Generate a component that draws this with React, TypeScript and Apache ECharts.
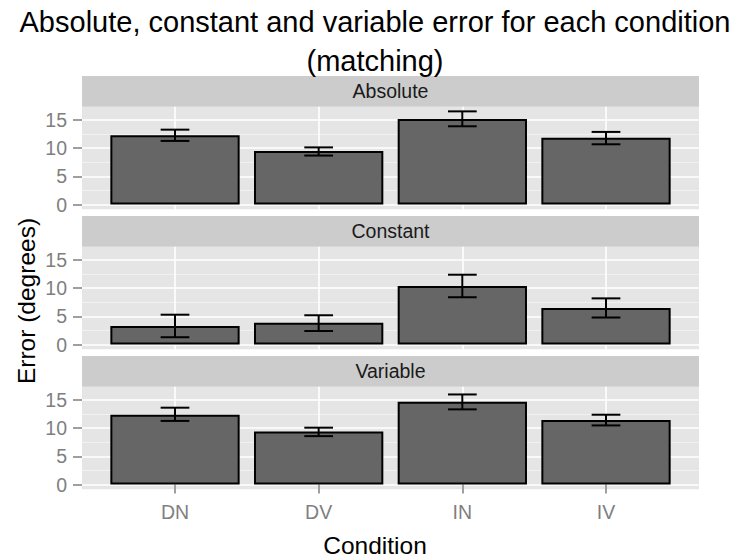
import React, { useEffect, useRef } from "react";
import * as echarts from "echarts";

// ---- data ----
const conditions = ["DN", "DV", "IN", "IV"];
const facetNames = ["Absolute", "Constant", "Variable"];

const absoluteMean = [12.3, 9.5, 15.2, 11.85];
const absoluteLow = [11.3, 8.7, 13.9, 10.7];
const absoluteHigh = [13.3, 10.15, 16.55, 12.9];

const constantMean = [3.3, 3.85, 10.4, 6.5];
const constantLow = [1.3, 2.4, 8.4, 4.8];
const constantHigh = [5.3, 5.2, 12.4, 8.2];

const variableMean = [12.4, 9.4, 14.7, 11.45];
const variableLow = [11.3, 8.6, 13.35, 10.5];
const variableHigh = [13.65, 10.1, 16.0, 12.4];

const yTickValues = [0, 5, 10, 15];
const yMinorValues = [2.5, 7.5, 12.5];

const titleLines = ["Absolute, constant and variable error for each condition", "(matching)"];
const xTitle = "Condition";
const yTitle = "Error (degrees)";

export default function App() {
  const ref = useRef<HTMLDivElement>(null);

  useEffect(() => {
    if (!ref.current) return;
    const chart = echarts.init(ref.current, null, { renderer: "svg" });

    const means = [absoluteMean, constantMean, variableMean];
    const lows = [absoluteLow, constantLow, variableLow];
    const highs = [absoluteHigh, constantHigh, variableHigh];

    const allHigh = Math.max(...highs.flat());
    const yMax = allHigh * 1.05;
    const yMin = -allHigh * 0.05;

    // layout
    const FONT = "Liberation Sans, Arial, Helvetica, sans-serif";
    const panelLeft = 82;
    const panelWidth = 617;
    const panelTops = [106.7, 246.7, 386.7];
    const panelHeight = 102.5;
    const stripHeight = 30.7;
    const expand = 93; // discrete expansion on each side
    const innerLeft = panelLeft + expand;
    const innerWidth = panelWidth - 2 * expand;
    const tickColor = "#7F7F7F";

    const grid: any[] = [];
    const xAxis: any[] = [];
    const yAxis: any[] = [];
    const series: any[] = [];
    const graphic: any[] = [];

    facetNames.forEach((name, p) => {
      const top = panelTops[p];
      const isLast = p === facetNames.length - 1;
      // grid A: full panel (background, horizontal grid lines, y axis)
      grid.push({
        left: panelLeft,
        top,
        width: panelWidth,
        height: panelHeight,
        show: true,
        backgroundColor: "#E5E5E5",
        borderWidth: 0,
        containLabel: false,
      });
      // grid B: category centres
      grid.push({
        left: innerLeft,
        top,
        width: innerWidth,
        height: panelHeight,
        show: false,
        containLabel: false,
      });
      const gA = 2 * p;
      const gB = 2 * p + 1;
      xAxis.push({
        type: "value",
        gridIndex: gA,
        min: 0,
        max: 1,
        show: false,
      });
      xAxis.push({
        type: "category",
        gridIndex: gB,
        data: conditions,
        boundaryGap: false,
        position: "bottom",
        z: 1,
        axisLine: { show: false },
        axisTick: {
          show: isLast,
          length: 9,
          alignWithLabel: true,
          lineStyle: { color: tickColor, width: 1.5 },
        },
        axisLabel: {
          show: isLast,
          color: tickColor,
          fontSize: 19.5,
          fontFamily: FONT,
          margin: 13,
        },
        splitLine: { show: true, lineStyle: { color: "#FFFFFF", width: 1.6 } },
      });
      yAxis.push({
        type: "value",
        gridIndex: gA,
        min: yMin,
        max: yMax,
        axisLine: { show: false },
        axisTick: {
          show: true,
          length: 9,
          customValues: yTickValues,
          lineStyle: { color: tickColor, width: 1.5 },
        },
        axisLabel: {
          show: true,
          customValues: yTickValues,
          color: tickColor,
          fontSize: 19.5,
          fontFamily: FONT,
          margin: 15,
          formatter: (v: number) => String(v),
        },
        splitLine: { show: false },
      });
      yAxis.push({
        type: "value",
        gridIndex: gB,
        min: yMin,
        max: yMax,
        show: false,
        splitLine: { show: false },
      });

      // horizontal grid lines (minor then major)
      series.push({
        type: "line",
        xAxisIndex: gA,
        yAxisIndex: gA,
        data: [],
        silent: true,
        z: 0,
        markLine: {
          silent: true,
          z: 0,
          symbol: "none",
          label: { show: false },
          animation: false,
          data: [
            ...yMinorValues.map((v) => ({ yAxis: v, lineStyle: { color: "#F2F2F2", width: 0.9, type: "solid" } })),
            ...yTickValues.map((v) => ({ yAxis: v, lineStyle: { color: "#FFFFFF", width: 1.6, type: "solid" } })),
          ],
        },
      });

      // bars
      series.push({
        type: "bar",
        name: name,
        xAxisIndex: gB,
        yAxisIndex: gB,
        data: means[p],
        barWidth: "90%",
        clip: false,
        z: 3,
        itemStyle: { color: "#666666", borderColor: "#000000", borderWidth: 2 },
      });

      // error bars
      series.push({
        type: "custom",
        xAxisIndex: gB,
        yAxisIndex: gB,
        z: 4,
        clip: false,
        encode: { x: 0, y: [1, 2] },
        data: conditions.map((c, i) => [i, lows[p][i], highs[p][i]]),
        renderItem: (params: any, api: any) => {
          const xi = api.value(0);
          const lo = api.coord([xi, api.value(1)]);
          const hi = api.coord([xi, api.value(2)]);
          const half = api.size([1, 0])[0] * 0.1;
          const style = { stroke: "#000000", lineWidth: 2 };
          return {
            type: "group",
            children: [
              { type: "line", shape: { x1: lo[0], y1: lo[1], x2: hi[0], y2: hi[1] }, style },
              { type: "line", shape: { x1: hi[0] - half, y1: hi[1], x2: hi[0] + half, y2: hi[1] }, style },
              { type: "line", shape: { x1: lo[0] - half, y1: lo[1], x2: lo[0] + half, y2: lo[1] }, style },
            ],
          };
        },
      });

      // strip
      graphic.push({
        type: "rect",
        shape: { x: panelLeft, y: top - stripHeight, width: panelWidth, height: stripHeight },
        style: { fill: "#CCCCCC" },
        silent: true,
      });
      graphic.push({
        type: "text",
        x: panelLeft + panelWidth / 2,
        y: top - stripHeight / 2,
        style: {
          text: name,
          fill: "#1A1A1A",
          font: `19.5px ${FONT}`,
          textAlign: "center",
          textVerticalAlign: "middle",
        },
        silent: true,
      });
    });

    // titles
    graphic.push({
      type: "text",
      x: 375,
      y: 22,
      style: { text: titleLines[0], fill: "#000000", font: `29px ${FONT}`, textAlign: "center", textVerticalAlign: "middle" },
    });
    graphic.push({
      type: "text",
      x: 375,
      y: 61,
      style: { text: titleLines[1], fill: "#000000", font: `29px ${FONT}`, textAlign: "center", textVerticalAlign: "middle" },
    });
    graphic.push({
      type: "text",
      x: 375,
      y: 545,
      style: { text: xTitle, fill: "#000000", font: `24.5px ${FONT}`, textAlign: "center", textVerticalAlign: "middle" },
    });
    graphic.push({
      type: "text",
      x: 26,
      y: 301,
      rotation: Math.PI / 2,
      style: { text: yTitle, fill: "#000000", font: `24.5px ${FONT}`, textAlign: "center", textVerticalAlign: "middle" },
    });

    chart.setOption({
      animation: false,
      backgroundColor: "#FFFFFF",
      grid,
      xAxis,
      yAxis,
      series,
      graphic,
    });

    return () => chart.dispose();
  }, []);

  return (
    <div
      ref={ref}
      style={{ position: "fixed", left: 0, top: 0, width: 733, height: 557 }}
    />
  );
}
